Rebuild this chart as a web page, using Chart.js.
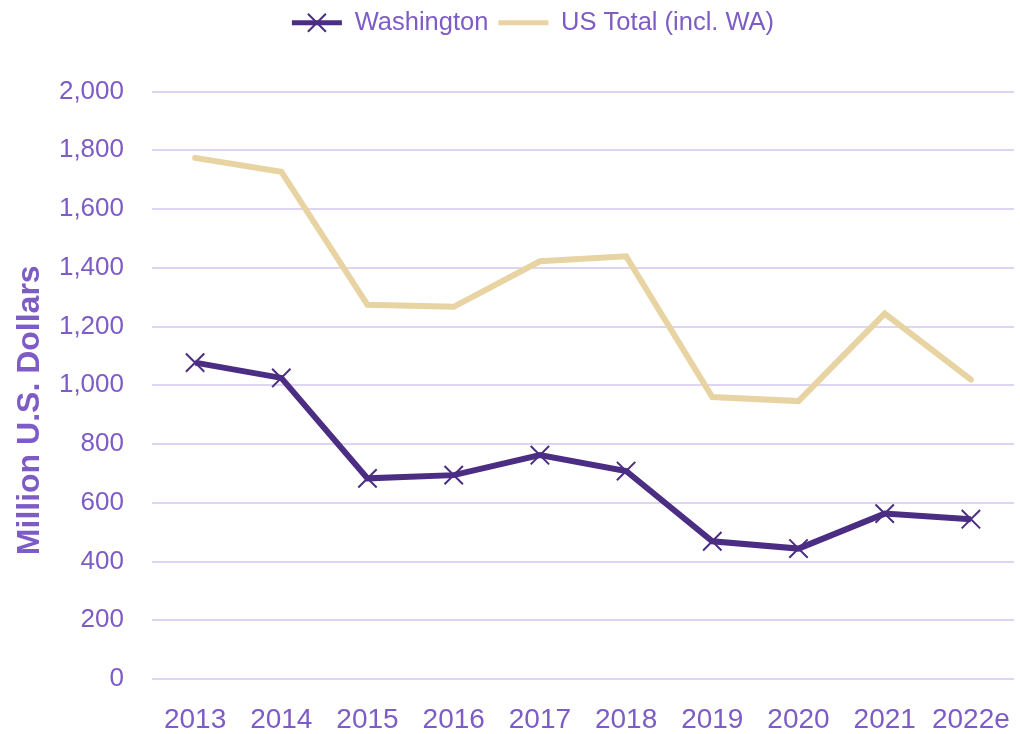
<!DOCTYPE html>
<html>
<head>
<meta charset="utf-8">
<script src="https://cdn.jsdelivr.net/npm/chart.js@4/dist/chart.umd.min.js"></script>
<style>
  html, body { margin: 0; padding: 0; background: #fff; }
  #wrap { width: 1020px; height: 734px; position: relative; }
</style>
</head>
<body>
<div id="wrap"><canvas id="chart"></canvas></div>
<script>
  // values (million US dollars)
  const YEARS = ["2013","2014","2015","2016","2017","2018","2019","2020","2021","2022e"];
  const WASHINGTON = [1077, 1025, 683, 694, 762, 708, 469, 444, 563, 544];
  const US_TOTAL = [1774, 1727, 1274, 1267, 1422, 1439, 960, 946, 1244, 1019];
  const Y_TITLE = "Million U.S. Dollars";

  const FONT = "'Liberation Sans', Arial, sans-serif";
  const TEXT = "#7d5cc6";
  const PURPLE = "#4b2e83";
  const GOLD = "#e8d3a2";
  const GRID = "#ddd5f1";

  // legend tweaks: extra room below it, nudge to the right, and the x mark on Washington
  const legendTweaks = {
    id: "legendTweaks",
    afterInit(chart){
      const lg = chart.legend;
      const fit = lg.fit;
      lg.fit = function(){ fit.call(this); this.height += 46; };
    },
    afterLayout(chart){
      chart.legend.left += 26;
      chart.legend.right += 26;
    },
    afterDraw(chart){
      const lg = chart.legend;
      const box = lg.legendHitBoxes[0];
      if (!box) return;
      const bw = lg.options.labels.boxWidth;
      const cx = box.left + bw / 2;
      const cy = box.top + box.height / 2;
      const ctx = chart.ctx;
      ctx.save();
      ctx.strokeStyle = PURPLE;
      ctx.lineWidth = 2;
      ctx.beginPath();
      ctx.moveTo(cx - 9, cy - 9); ctx.lineTo(cx + 9, cy + 9);
      ctx.moveTo(cx + 9, cy - 9); ctx.lineTo(cx - 9, cy + 9);
      ctx.stroke();
      ctx.restore();
    }
  };

  // y axis title, a little below the middle of the plot like the original
  const yTitle = {
    id: "yTitle",
    afterDraw(chart){
      const a = chart.chartArea;
      const ctx = chart.ctx;
      ctx.save();
      ctx.translate(30, (a.top + a.bottom) / 2 + 25);
      ctx.rotate(-Math.PI / 2);
      ctx.fillStyle = TEXT;
      ctx.font = "bold 32px " + FONT;
      ctx.textAlign = "center";
      ctx.textBaseline = "middle";
      ctx.fillText(Y_TITLE, 0, 0);
      ctx.restore();
    }
  };

  new Chart(document.getElementById("chart"), {
    type: "line",
    data: {
      labels: YEARS,
      datasets: [
        {
          label: "Washington",
          data: WASHINGTON,
          borderColor: PURPLE,
          backgroundColor: PURPLE,
          borderWidth: 6,
          tension: 0,
          pointStyle: "crossRot",
          pointRadius: 13,
          pointBorderWidth: 2,
          pointBorderColor: PURPLE,
          pointHoverRadius: 13
        },
        {
          label: "US Total (incl. WA)",
          data: US_TOTAL,
          borderColor: GOLD,
          backgroundColor: GOLD,
          borderWidth: 6,
          borderCapStyle: "round",
          tension: 0,
          pointRadius: 0,
          pointHoverRadius: 0
        }
      ]
    },
    options: {
      responsive: true,
      maintainAspectRatio: false,
      animation: false,
      layout: { autoPadding: false, padding: { left: 0, right: 6, top: 0, bottom: 0 } },
      plugins: {
        tooltip: { enabled: false },
        legend: {
          position: "top",
          labels: {
            color: TEXT,
            font: { family: FONT, size: 25.5 },
            boxWidth: 50,
            boxHeight: 5,
            padding: 10,
            generateLabels(chart){
              return chart.data.datasets.map((ds, i) => ({
                text: ds.label,
                fillStyle: ds.borderColor,
                strokeStyle: ds.borderColor,
                lineWidth: 0,
                fontColor: TEXT,
                datasetIndex: i,
                hidden: false
              }));
            }
          }
        }
      },
      scales: {
        x: {
          offset: true,
          afterFit(scale){
            scale.height = 55;
            scale.paddingLeft = 0;
            scale.paddingRight = 0;
          },
          grid: { display: false, drawTicks: false },
          border: { display: false },
          ticks: {
            color: TEXT,
            font: { family: FONT, size: 28 },
            padding: 24,
            maxRotation: 0,
            autoSkip: false
          }
        },
        y: {
          min: 0,
          max: 2000,
          afterFit(scale){ scale.width = 152; },
          grid: { color: GRID, lineWidth: 2, drawTicks: false },
          border: { display: false },
          ticks: {
            stepSize: 200,
            color: TEXT,
            font: { family: FONT, size: 26 },
            padding: 28,
            callback: v => v.toLocaleString("en-US")
          }
        }
      }
    },
    plugins: [legendTweaks, yTitle]
  });
</script>
</body>
</html>
